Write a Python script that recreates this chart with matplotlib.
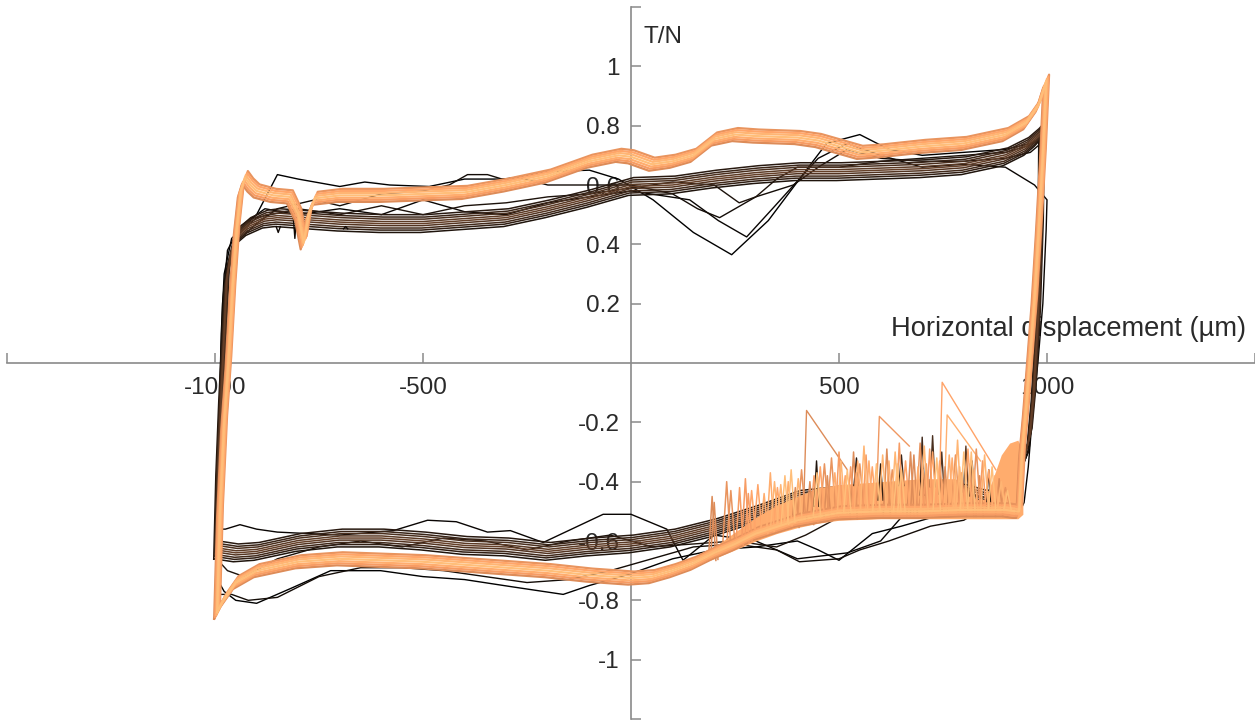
import numpy as np
import matplotlib
matplotlib.use("Agg")
import matplotlib.pyplot as plt

plt.rcParams['font.family'] = ['Liberation Sans', 'DejaVu Sans']

# ---------------- data ----------------
# late cycles (orange family): upper branch incl. left rise and right drop
ORANGE_UPPER_X = [-995, -988, -978, -968, -958, -948, -938, -928, -915, -900,
                  -860, -820, -800, -787, -775, -760, -700, -600, -500, -400,
                  -300, -200, -100, -30, 0, 50, 100, 150, 200, 250,
                  300, 400, 450, 500, 550, 600, 700, 800, 900, 950,
                  980, 998, 990, 980, 970, 958, 949, 940, 933]
ORANGE_UPPER_Y = [-0.84, -0.50, -0.20, 0.00, 0.25, 0.45, 0.58, 0.625, 0.60, 0.58,
                  0.565, 0.56, 0.50, 0.405, 0.50, 0.555, 0.565, 0.565, 0.57, 0.575,
                  0.60, 0.63, 0.68, 0.70, 0.695, 0.67, 0.68, 0.70, 0.755, 0.77,
                  0.765, 0.76, 0.75, 0.73, 0.71, 0.715, 0.73, 0.74, 0.77, 0.81,
                  0.87, 0.95, 0.70, 0.45, 0.22, 0.00, -0.16, -0.30, -0.50]
ORANGE_LOWER_X = [925, 900, 800, 700, 600, 500, 400, 300, 250, 200,
                  150, 100, 50, 0, -100, -200, -300, -400, -500, -600,
                  -700, -800, -900, -950, -980, -995]
ORANGE_LOWER_Y = [-0.50, -0.495, -0.495, -0.50, -0.50, -0.505, -0.53, -0.575, -0.61, -0.64,
                  -0.675, -0.70, -0.72, -0.725, -0.715, -0.70, -0.69, -0.68, -0.67, -0.665,
                  -0.66, -0.67, -0.70, -0.74, -0.80, -0.84]
# envelope of the dense stick-slip mass on the late-cycle lower branch
ORANGE_MASS_X = [190, 250, 300, 350, 400, 450, 500, 600, 700, 780,
                 810, 830, 850, 870, 890, 910, 930, 942]
ORANGE_MASS_TOP = [-0.63, -0.57, -0.52, -0.48, -0.45, -0.42, -0.41, -0.40, -0.39, -0.39,
                   -0.42, -0.46, -0.46, -0.39, -0.31, -0.27, -0.26, -0.30]
ORANGE_MASS_BOT = [-0.665, -0.63, -0.60, -0.575, -0.555, -0.54, -0.53, -0.525, -0.525, -0.525,
                   -0.525, -0.525, -0.525, -0.525, -0.525, -0.525, -0.525, -0.51]

# early cycles (dark brown family)
DARK_UPPER_X = [-997, -992, -985, -978, -972, -962, -945, -920, -880, -850,
                -800, -700, -600, -500, -400, -300, -200, -100, 0, 100,
                200, 300, 400, 500, 600, 700, 800, 900, 950, 975,
                988, 985, 978, 968, 958]
DARK_UPPER_Y = [-0.63, -0.35, -0.10, 0.10, 0.28, 0.37, 0.43, 0.46, 0.485, 0.49,
                0.485, 0.475, 0.47, 0.47, 0.48, 0.49, 0.52, 0.555, 0.595, 0.60,
                0.62, 0.635, 0.645, 0.645, 0.65, 0.655, 0.665, 0.695, 0.73, 0.76,
                0.78, 0.45, 0.15, -0.10, -0.25]
DARK_LOWER_X = [945, 920, 880, 850, 800, 700, 600, 500, 400, 300,
                200, 100, 0, -100, -200, -300, -400, -500, -600, -700,
                -800, -900, -950, -997]
DARK_LOWER_Y = [-0.32, -0.40, -0.45, -0.46, -0.44, -0.43, -0.44, -0.445, -0.46, -0.51,
                -0.555, -0.59, -0.61, -0.62, -0.635, -0.62, -0.615, -0.60, -0.59, -0.59,
                -0.605, -0.635, -0.64, -0.63]

# spread of the individual cycles inside each family band
DARK_SPREAD_Y = [-0.03, 0.03, -0.022, 0.022, -0.015, 0.015, -0.007, 0.007, 0.0]
DARK_SPREAD_X = [-6, 6, -4, 4, -3, 3, -1, 1, 0]
ORANGE_SPREAD_Y = [-0.022, 0.022, -0.015, 0.015, -0.008, 0.008, 0.0]
ORANGE_SPREAD_X = [-7, 7, -5, 5, -2, 2, 0]

# first (black) cycles that stray from the bands
STRAY_A_X = [-998, -992, -985, -978, -960, -900, -850, -800, -700, -640,
             -580, -485, -400, -300, -200, -100, -30, 53, 150, 242,
             330, 405, 470, 550, 620, 700, 800, 900, 960, 985,
             980, 970, 955, 920, 880, 800, 725, 650, 580, 500,
             450, 400, 300, 200, 100, 0, -100, -163, -283, -400,
             -500, -602, -722, -818, -900, -950, -978, -998]
STRAY_A_Y = [-0.72, -0.30, 0.10, 0.30, 0.42, 0.50, 0.635, 0.62, 0.595, 0.61,
             0.60, 0.595, 0.62, 0.62, 0.645, 0.65, 0.62, 0.55, 0.44, 0.365,
             0.48, 0.62, 0.74, 0.77, 0.72, 0.70, 0.71, 0.72, 0.74, 0.76,
             0.30, -0.10, -0.30, -0.42, -0.50, -0.52, -0.52, -0.55, -0.575, -0.665,
             -0.63, -0.60, -0.62, -0.63, -0.66, -0.71, -0.75, -0.78, -0.755, -0.73,
             -0.72, -0.70, -0.70, -0.76, -0.81, -0.80, -0.77, -0.72]
STRAY_B_X = [-996, -990, -982, -970, -940, -880, -800, -700, -600, -500,
             -400, -300, -200, -100, 0, 141, 210, 278, 340, 398,
             450, 520, 600, 700, 800, 900, 970, 1000, 998, 990,
             978, 966, 955, 945, 935, 850, 750, 650, 600, 520,
             400, 300, 200, 125, 86, 0, -67, -211, -290, -345,
             -420, -489, -571, -700, -850, -900, -940, -975, -996]
STRAY_B_Y = [-0.56, -0.20, 0.20, 0.38, 0.46, 0.52, 0.50, 0.52, 0.50, 0.55,
             0.51, 0.50, 0.54, 0.56, 0.58, 0.55, 0.48, 0.425, 0.52, 0.61,
             0.69, 0.74, 0.70, 0.66, 0.67, 0.66, 0.60, 0.55, 0.45, 0.20,
             0.00, -0.16, -0.35, -0.47, -0.50, -0.48, -0.45, -0.52, -0.60, -0.64,
             -0.66, -0.60, -0.58, -0.665, -0.56, -0.51, -0.51, -0.605, -0.565, -0.57,
             -0.535, -0.53, -0.565, -0.58, -0.57, -0.56, -0.545, -0.56, -0.56]
STRAY_C_X = [-997, -990, -982, -975, -955, -900, -850, -760, -700, -600,
             -500, -437, -393, -345, -310, -270, -200, -100, 0, 100,
             160, 213, 300, 390, 450, 520, 600, 700, 800, 900,
             960, 985, 982, 972, 958, 930, 880, 800, 720, 620,
             550, 500, 405, 350, 250, 150, 50, -50, -150, -250,
             -350, -450, -550, -650, -750, -850, -920, -960, -997]
STRAY_C_Y = [-0.78, -0.40, 0.00, 0.28, 0.40, 0.47, 0.52, 0.55, 0.53, 0.57,
             0.58, 0.60, 0.635, 0.635, 0.62, 0.625, 0.60, 0.60, 0.60, 0.57,
             0.52, 0.49, 0.56, 0.60, 0.66, 0.72, 0.69, 0.68, 0.68, 0.69,
             0.71, 0.74, 0.30, -0.05, -0.28, -0.40, -0.46, -0.53, -0.55, -0.60,
             -0.63, -0.66, -0.67, -0.63, -0.61, -0.62, -0.66, -0.70, -0.73, -0.74,
             -0.72, -0.70, -0.69, -0.69, -0.72, -0.79, -0.80, -0.78, -0.78]
STRAY_D_X = [-996, -990, -983, -975, -955, -900, -800, -700, -600, -500,
             -400, -300, -200, -100, 0, 100, 200, 260, 300, 350,
             400, 500, 600, 700, 800, 900, 950, 980, 978, 968,
             955, 925, 880, 800, 700, 600, 500, 420, 350, 250,
             150, 50, -50, -150, -250, -350, -450, -550, -650, -750,
             -850, -930, -970, -996]
STRAY_D_Y = [-0.66, -0.30, 0.10, 0.30, 0.42, 0.49, 0.52, 0.50, 0.53, 0.50,
             0.53, 0.54, 0.56, 0.57, 0.59, 0.61, 0.60, 0.54, 0.56, 0.62,
             0.66, 0.66, 0.68, 0.69, 0.70, 0.71, 0.73, 0.75, 0.30, -0.05,
             -0.30, -0.40, -0.46, -0.44, -0.45, -0.47, -0.52, -0.58, -0.62, -0.60,
             -0.61, -0.62, -0.58, -0.60, -0.63, -0.60, -0.59, -0.62, -0.60, -0.62,
             -0.66, -0.72, -0.70, -0.66]

# stick-slip spikes on the late-cycle lower branch
ORANGE_SPIKE_X = [195, 230, 261, 290, 320, 345, 370, 395, 410, 440,
                  455, 490, 505, 520, 535, 550, 565, 580, 620, 635,
                  650, 680, 695, 710, 725, 772, 785, 800, 815, 830,
                  845, 860, 875, 890, 905,
                  200, 240, 275, 305, 335, 360, 385, 430, 465, 500,
                  515, 545, 560, 590, 615, 628, 645, 660, 690, 705,
                  735, 755, 780, 795, 810, 825, 850, 868, 885, 900,
                  282, 352, 378, 402, 447, 472, 482, 528, 542, 572,
                  605, 640, 672, 702, 718, 742, 765, 790, 818, 838]
ORANGE_SPIKE_Y = [-0.45, -0.40, -0.42, -0.43, -0.44, -0.40, -0.38, -0.42, -0.36, -0.38,
                  -0.35, -0.37, -0.33, -0.36, -0.30, -0.34, -0.31, -0.35, -0.33, -0.30,
                  -0.36, -0.31, -0.27, -0.34, -0.30, -0.32, -0.26, -0.30, -0.34, -0.29,
                  -0.33, -0.36, -0.38, -0.40, -0.43,
                  -0.47, -0.43, -0.39, -0.41, -0.37, -0.41, -0.36, -0.40, -0.34, -0.30,
                  -0.38, -0.33, -0.28, -0.34, -0.29, -0.36, -0.27, -0.33, -0.35, -0.28,
                  -0.32, -0.35, -0.31, -0.37, -0.29, -0.36, -0.31, -0.35, -0.39, -0.42,
                  -0.44, -0.42, -0.40, -0.39, -0.37, -0.38, -0.32, -0.35, -0.37, -0.33,
                  -0.31, -0.34, -0.30, -0.36, -0.29, -0.33, -0.31, -0.35, -0.30, -0.38]
DARK_SPIKE_X = [446, 542, 600, 650, 700, 725, 747, 805, 820, 860]
DARK_SPIKE_Y = [-0.33, -0.32, -0.34, -0.31, -0.25, -0.245, -0.30, -0.28, -0.33, -0.36]
DARK_DIP_X = [-848, -808, -686]
DARK_DIP_Y = [0.44, 0.42, 0.46]
JUMP_X = [422, 597, 748, 760]
JUMP_Y = [-0.16, -0.18, -0.065, -0.175]
JUMP_END_X = [520, 669, 877, 840]
JUMP_END_Y = [-0.36, -0.28, -0.36, -0.33]

X_TICKS = [-1500, -1000, -500, 500, 1000, 1500]
X_TICK_LABELS = ['', '-1000', '-500', '500', '1000', '']
Y_TICKS = [-1.2, -1.0, -0.8, -0.6, -0.4, -0.2, 0.2, 0.4, 0.6, 0.8, 1.0, 1.2]
Y_TICK_LABELS = ['', '-1', '-0.8', '-0.6', '-0.4', '-0.2', '0.2', '0.4', '0.6', '0.8', '1', '']
X_LABEL = 'Horizontal displacement (µm)'
Y_LABEL = 'T/N'

# ---------------- figure ----------------
fig = plt.figure(figsize=(12.55, 7.21), dpi=100)
ax = fig.add_axes([7 / 1255, 2 / 721, 1248 / 1255, 712 / 721])
ax.set_xlim(-1500, 1500)
ax.set_ylim(-1.2, 1.2)
ax.set_axisbelow(True)

for s in ['top', 'right']:
    ax.spines[s].set_visible(False)
for s in ['left', 'bottom']:
    ax.spines[s].set_position(('data', 0))
    ax.spines[s].set_color('#8a8a8a')
    ax.spines[s].set_linewidth(1.2)
    ax.spines[s].set_zorder(1)

ax.set_xticks(X_TICKS)
ax.set_xticklabels(X_TICK_LABELS)
ax.set_yticks(Y_TICKS)
ax.set_yticklabels(Y_TICK_LABELS)
ax.tick_params(axis='both', direction='in', length=7, width=1.1, color='#8a8a8a',
               labelsize=17.5, labelcolor='#2a2a2a')
ax.tick_params(axis='x', pad=10)
ax.tick_params(axis='y', pad=8)

copper = plt.get_cmap('copper')

# stray early cycles (black)
strays = [(STRAY_A_X, STRAY_A_Y), (STRAY_B_X, STRAY_B_Y),
          (STRAY_C_X, STRAY_C_Y), (STRAY_D_X, STRAY_D_Y)]
for i, (sx, sy) in enumerate(strays):
    ax.plot(sx, sy, color=copper(0.03 * i), lw=1.0, zorder=3)

# dark family
dark_x = np.array(DARK_UPPER_X + DARK_LOWER_X, dtype=float)
dark_y = np.array(DARK_UPPER_Y + DARK_LOWER_Y, dtype=float)
dlx = np.array(DARK_LOWER_X[::-1], dtype=float)
dly = np.array(DARK_LOWER_Y[::-1], dtype=float)
dux = np.array(DARK_UPPER_X[9:30], dtype=float)
duy = np.array(DARK_UPPER_Y[9:30], dtype=float)
n_dark = len(DARK_SPREAD_Y)
dark_cols = [copper(v) for v in np.linspace(0.10, 0.32, n_dark)]
for i in range(n_dark):
    ax.plot(dark_x + DARK_SPREAD_X[i], dark_y + DARK_SPREAD_Y[i],
            color=dark_cols[i], lw=1.1, zorder=4)
for k, (px, py) in enumerate(zip(DARK_DIP_X, DARK_DIP_Y)):
    i = k % n_dark
    b = np.interp(px, dux, duy) + DARK_SPREAD_Y[i]
    ax.plot([px - 5, px, px + 5], [b, py, b], color=copper(0.05), lw=1.0, zorder=4)

# orange family (late cycles, on top)
or_x = np.array(ORANGE_UPPER_X + ORANGE_LOWER_X, dtype=float)
or_y = np.array(ORANGE_UPPER_Y + ORANGE_LOWER_Y, dtype=float)
olx = np.array(ORANGE_LOWER_X[::-1], dtype=float)
oly = np.array(ORANGE_LOWER_Y[::-1], dtype=float)
n_or = len(ORANGE_SPREAD_Y)
or_cols = [copper(v) for v in np.linspace(0.70, 0.95, n_or)]

ax.fill_between(ORANGE_MASS_X, ORANGE_MASS_BOT, ORANGE_MASS_TOP,
                color=copper(0.86), lw=0, zorder=4.5)
for k, (px, py) in enumerate(zip(DARK_SPIKE_X, DARK_SPIKE_Y)):
    i = k % n_dark
    b = np.interp(px, dlx, dly) + DARK_SPREAD_Y[i]
    ax.plot([px + 6, px, px - 6], [b, py, b], color=dark_cols[i], lw=1.0, zorder=4.6)
for k, (jx, jy, ex, ey) in enumerate(zip(JUMP_X, JUMP_Y, JUMP_END_X, JUMP_END_Y)):
    b = np.interp(jx, olx, oly)
    ax.plot([jx - 8, jx, ex], [b, jy, ey], color=copper(0.70 + 0.06 * k), lw=1.0, zorder=5)
for i in range(n_or):
    ax.plot(or_x + ORANGE_SPREAD_X[i], or_y + ORANGE_SPREAD_Y[i],
            color=or_cols[i], lw=1.6, zorder=5 + i * 0.01)
for k, (px, py) in enumerate(zip(ORANGE_SPIKE_X, ORANGE_SPIKE_Y)):
    i = k % n_or
    b = np.interp(px, olx, oly) + ORANGE_SPREAD_Y[i]
    ax.plot([px + 9, px, px - 9], [b, py, b], color=or_cols[i], lw=1.1,
            zorder=5 + i * 0.01)

# axis titles
ax.text(30, 1.10, Y_LABEL, fontsize=17.5, color='#2a2a2a', ha='left', va='center', zorder=2)
ax.text(1478, 0.09, X_LABEL, fontsize=19.6, color='#2a2a2a', ha='right', va='baseline', zorder=2)

fig.savefig('out.png', dpi=100, facecolor='white')
